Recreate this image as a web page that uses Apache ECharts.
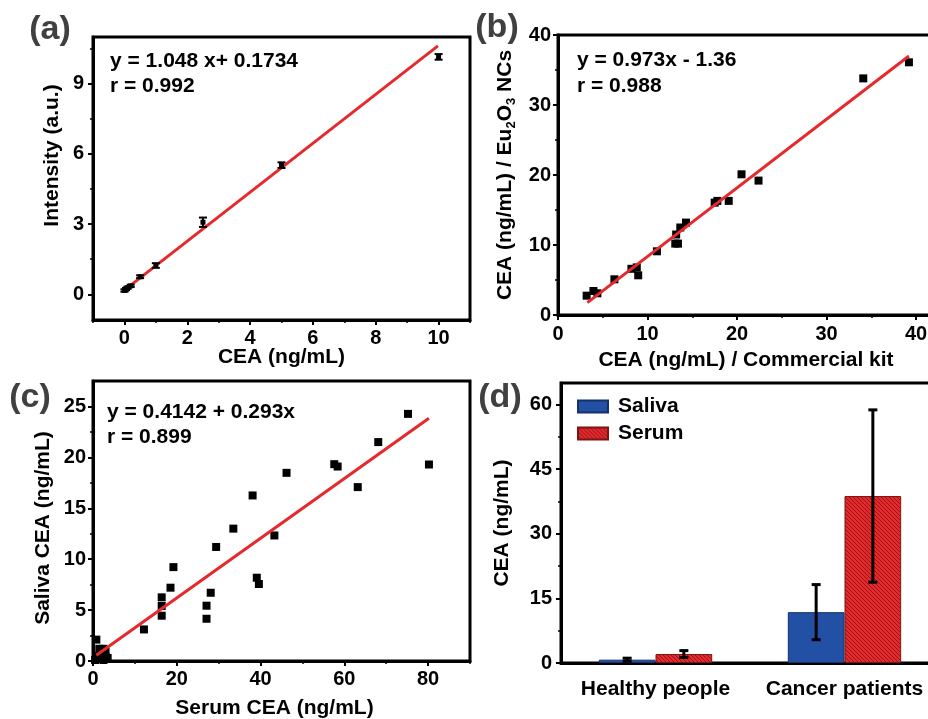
<!DOCTYPE html>
<html><head><meta charset="utf-8">
<script src="https://cdn.jsdelivr.net/npm/echarts@6/dist/echarts.min.js"></script>
<style>html,body{margin:0;padding:0;background:#fff}#c{width:928px;height:719px}</style>
</head><body><div id="c"></div>
<script>
// ---------- data ----------
// (a) calibration
const aX = [0, 0.05, 0.1, 0.2, 0.5, 1, 2.5, 5, 10];
const aY = [0.16, 0.22, 0.28, 0.36, 0.75, 1.23, 3.08, 5.52, 10.15];
const aErr = [0.05, 0.05, 0.05, 0.05, 0.06, 0.1, 0.2, 0.12, 0.12];
const aFitX = [0, 9.98];
const aFitY = [0.18, 10.62];
const aXTicks = [0, 2, 4, 6, 8, 10];
const aXMinor = [-1, 1, 3, 5, 7, 9, 11];
const aYTicks = [0, 3, 6, 9];
const aYMinor = [-1.5, 1.5, 4.5, 7.5, 10.5];
// (b) Eu2O3 NCs vs commercial kit
const bX = [3.2, 3.96, 4.4, 6.3, 8.2, 8.8, 8.96, 11.05, 13.2, 13.1, 13.4, 13.66, 14.3, 17.5, 17.8, 19.07, 20.5, 22.4, 34.1, 39.2];
const bY = [2.76, 3.43, 3.1, 5.1, 6.6, 6.8, 5.67, 9.1, 11.5, 10.2, 10.2, 12.5, 13.2, 16.05, 16.3, 16.3, 20.1, 19.2, 33.8, 36.1];
const bFitX = [3.28, 39.2];
const bFitY = [1.76, 37.0];
const bXTicks = [0, 10, 20, 30, 40];
const bXMinor = [5, 15, 25, 35];
const bYTicks = [0, 10, 20, 30, 40];
const bYMinor = [5, 15, 25, 35];
// (c) saliva vs serum
const cX = [0.8, 1.5, 2.5, 3.0, 1.0, 2.0, 3.0, 1.5, 2.5, 0.5, 3.5, 12.16, 16.4, 16.4, 16.4, 18.5, 19.2, 27.1, 27.1, 28.1, 29.4, 33.5, 38.1, 39.1, 39.6, 43.3, 46.2, 57.6, 58.4, 63.2, 68.1, 75.2, 80.2];
const cY = [2.1, 1.2, 1.2, 0.9, 0.5, 0.6, 0.4, 0.2, 0.1, 0.1, 0.3, 3.1, 6.25, 5.4, 4.45, 7.2, 9.22, 5.43, 4.15, 6.7, 11.2, 13.0, 16.26, 8.18, 7.56, 12.33, 18.48, 19.33, 19.1, 17.08, 21.5, 24.27, 19.3];
const cFitX = [0.8, 80.2];
const cFitY = [0.56, 23.85];
const cXTicks = [0, 20, 40, 60, 80];
const cXMinor = [10, 30, 50, 70, 90];
const cYTicks = [0, 5, 10, 15, 20, 25];
const cYMinor = [2.5, 7.5, 12.5, 17.5, 22.5];
// (d) bar chart
const dCategories = ['Healthy people', 'Cancer patients'];
const dSaliva = [0.77, 11.8];
const dSalivaErr = [0.35, 6.4];
const dSerum = [2.08, 38.76];
const dSerumErr = [0.8, 20.0];
const dYTicks = [0, 15, 30, 45, 60];
const dYMinor = [7.5, 22.5, 37.5, 52.5];

// ---------- style ----------
const FF = '"Liberation Sans", Arial, sans-serif';
const RED = '#e5292c';
const BLUE = '#2150a5';

function hatch() {
  const s = 4, c = document.createElement('canvas');
  c.width = s; c.height = s;
  const g = c.getContext('2d');
  g.fillStyle = RED; g.fillRect(0, 0, s, s);
  g.strokeStyle = '#7a1212'; g.lineWidth = 0.8;
  g.beginPath();
  g.moveTo(0, 0); g.lineTo(s, s);
  g.moveTo(-1, s - 1); g.lineTo(1, s + 1);
  g.moveTo(s - 1, -1); g.lineTo(s + 1, 1);
  g.stroke();
  return c;
}

const labelStyle = {color: '#000', fontSize: 20, fontWeight: 'bold', fontFamily: FF};
const nameStyle = {color: '#000', fontSize: 21, fontWeight: 'bold', fontFamily: FF};

function majorAxis(grid, pos, min, max, ticks, margin, name, gap, nameExtra) {
  return {
    type: 'value', gridIndex: grid, position: pos, min: min, max: max,
    axisLine: {show: true, onZero: false, lineStyle: {color: '#000', width: 3}},
    axisTick: {show: true, inside: false, length: 5, customValues: ticks, lineStyle: {color: '#000', width: 2}},
    axisLabel: {show: true, customValues: ticks, margin: margin, ...labelStyle},
    splitLine: {show: false},
    name: name, nameLocation: 'middle', nameGap: gap, nameMoveOverlap: false,
    nameRotate: (pos === 'left') ? 90 : 0,
    nameTextStyle: Object.assign({}, nameStyle, nameExtra || {})
  };
}
function minorAxis(grid, pos, min, max, ticks) {
  return {
    type: 'value', gridIndex: grid, position: pos, min: min, max: max,
    axisLine: {show: false, onZero: false},
    axisTick: {show: true, inside: false, length: 3, customValues: ticks, lineStyle: {color: '#000', width: 1.5}},
    axisLabel: {show: false},
    splitLine: {show: false}
  };
}

function errA(params, api) {
  const x = api.value(0), y = api.value(1), e = api.value(2);
  const t = api.coord([x, y + e]), b = api.coord([x, y - e]);
  const w = 4;
  const st = {stroke: '#000', lineWidth: 2};
  return {type: 'group', children: [
    {type: 'line', shape: {x1: t[0], y1: t[1], x2: b[0], y2: b[1]}, style: st},
    {type: 'line', shape: {x1: t[0] - w, y1: t[1], x2: t[0] + w, y2: t[1]}, style: st},
    {type: 'line', shape: {x1: b[0] - w, y1: b[1], x2: b[0] + w, y2: b[1]}, style: st}
  ]};
}
function errD(off) {
  return function (params, api) {
    const cat = api.value(0), v = api.value(1), e = api.value(2);
    const band = api.size([1, 0])[0];
    const c = api.coord([cat, v]);
    const x = c[0] + off * band;
    const t = api.coord([cat, v + e])[1], b = api.coord([cat, v - e])[1];
    const w = 4.5;
    const st = {stroke: '#000', lineWidth: 3};
    return {type: 'group', children: [
      {type: 'line', shape: {x1: x, y1: t, x2: x, y2: b}, style: st},
      {type: 'line', shape: {x1: x - w, y1: t, x2: x + w, y2: t}, style: st},
      {type: 'line', shape: {x1: x - w, y1: b, x2: x + w, y2: b}, style: st}
    ]};
  };
}

const zip = (xs, ys) => xs.map((x, i) => [x, ys[i]]);
const gridBase = {show: true, borderColor: '#000', borderWidth: 3, containLabel: false, outerBoundsMode: 'none'};
const dot = {color: '#000', opacity: 1};

const option = {
  animation: false,
  backgroundColor: '#fff',
  grid: [
    Object.assign({left: 93, top: 37, right: 458, bottom: 399}, gridBase),
    Object.assign({left: 558, top: 35, right: -6, bottom: 404}, gridBase),
    Object.assign({left: 93, top: 381, right: 458, bottom: 58}, gridBase),
    Object.assign({left: 561, top: 383, right: -11, bottom: 56}, gridBase)
  ],
  xAxis: [
    majorAxis(0, 'bottom', -1, 11, aXTicks, 8, 'CEA (ng/mL)', 27),
    minorAxis(0, 'bottom', -1, 11, aXMinor),
    majorAxis(1, 'bottom', 0, 42, bXTicks, 9, 'CEA (ng/mL) / Commercial kit', 35),
    minorAxis(1, 'bottom', 0, 42, bXMinor),
    majorAxis(2, 'bottom', 0, 90, cXTicks, 8, 'Serum CEA (ng/mL)', 37, {padding: [0, 14, 0, 0]}),
    minorAxis(2, 'bottom', 0, 90, cXMinor),
    {
      type: 'category', gridIndex: 3, position: 'bottom', data: dCategories,
      axisLine: {show: true, onZero: false, lineStyle: {color: '#000', width: 3}},
      axisTick: {show: false},
      axisLabel: {margin: 16, interval: 0, hideOverlap: false, color: '#000', fontSize: 21, fontWeight: 'bold', fontFamily: FF},
      splitLine: {show: false}
    }
  ],
  yAxis: [
    majorAxis(0, 'left', -1.1, 11, aYTicks, 9, 'Intensity (a.u.)', 30, {padding: [0, 0, 0, 46]}),
    minorAxis(0, 'left', -1.1, 11, aYMinor),
    majorAxis(1, 'left', 0, 40, bYTicks, 7, '{m|CEA (ng/mL) / Eu}{s|2}{m|O}{s|3}{m| NCs}', 40, {
      rich: {
        m: {fontSize: 21, fontWeight: 'bold', fontFamily: FF, color: '#000'},
        s: {fontSize: 13, fontWeight: 'bold', fontFamily: FF, color: '#000', padding: [12, 0, 0, 0]}
      }
    }),
    minorAxis(1, 'left', 0, 40, bYMinor),
    majorAxis(2, 'left', 0, 27.5, cYTicks, 7, 'Saliva CEA (ng/mL)', 39, {padding: [0, 14, 0, 0]}),
    minorAxis(2, 'left', 0, 27.5, cYMinor),
    majorAxis(3, 'left', 0, 65, dYTicks, 9, 'CEA (ng/mL)', 48),
    minorAxis(3, 'left', 0, 65, dYMinor)
  ],
  legend: {
    left: 572, top: 391, orient: 'vertical', itemWidth: 30, itemHeight: 12, itemGap: 6,
    icon: 'rect', data: ['Saliva', 'Serum'],
    textStyle: {color: '#000', fontSize: 21, fontWeight: 'bold', fontFamily: FF, padding: [0, 0, 0, 5]}
  },
  series: [
    // (a)
    {type: 'line', xAxisIndex: 0, yAxisIndex: 0, data: zip(aFitX, aFitY), symbol: 'none',
     lineStyle: {color: RED, width: 3}, z: 3},
    {type: 'custom', xAxisIndex: 0, yAxisIndex: 0, renderItem: errA,
     data: aX.map((x, i) => [x, aY[i], aErr[i]]), z: 4},
    {type: 'scatter', xAxisIndex: 0, yAxisIndex: 0, data: zip(aX, aY), symbol: 'rect', symbolSize: 5,
     itemStyle: dot, z: 5},
    // (b)
    {type: 'scatter', xAxisIndex: 2, yAxisIndex: 2, data: zip(bX, bY), symbol: 'rect', symbolSize: 8,
     itemStyle: dot, z: 2},
    {type: 'line', xAxisIndex: 2, yAxisIndex: 2, data: zip(bFitX, bFitY), symbol: 'none',
     lineStyle: {color: RED, width: 3}, z: 3},
    // (c)
    {type: 'scatter', xAxisIndex: 4, yAxisIndex: 4, data: zip(cX, cY), symbol: 'rect', symbolSize: 8,
     itemStyle: dot, z: 2},
    {type: 'line', xAxisIndex: 4, yAxisIndex: 4, data: zip(cFitX, cFitY), symbol: 'none',
     lineStyle: {color: RED, width: 3}, z: 3},
    // (d)
    {name: 'Saliva', type: 'bar', xAxisIndex: 6, yAxisIndex: 6, data: dSaliva, barWidth: '30%', barGap: '0%',
     itemStyle: {color: BLUE, borderColor: '#15306a', borderWidth: 1}},
    {name: 'Serum', type: 'bar', xAxisIndex: 6, yAxisIndex: 6, data: dSerum, barWidth: '30%', barGap: '0%',
     itemStyle: {color: {image: hatch(), repeat: 'repeat'}, borderColor: '#7a1515', borderWidth: 1}},
    {type: 'custom', xAxisIndex: 6, yAxisIndex: 6, renderItem: errD(-0.15),
     data: dSaliva.map((v, i) => [i, v, dSalivaErr[i]]), z: 5},
    {type: 'custom', xAxisIndex: 6, yAxisIndex: 6, renderItem: errD(0.15),
     data: dSerum.map((v, i) => [i, v, dSerumErr[i]]), z: 5}
  ],
  graphic: [
    {type: 'text', x: 110, y: 61, style: {text: 'y = 1.048 x+ 0.1734', fill: '#000', font: 'bold 21px ' + FF, verticalAlign: 'middle', textVerticalAlign: 'middle'}},
    {type: 'text', x: 110, y: 86, style: {text: 'r = 0.992', fill: '#000', font: 'bold 21px ' + FF, verticalAlign: 'middle', textVerticalAlign: 'middle'}},
    {type: 'text', x: 577, y: 60, style: {text: 'y = 0.973x - 1.36', fill: '#000', font: 'bold 21px ' + FF, verticalAlign: 'middle', textVerticalAlign: 'middle'}},
    {type: 'text', x: 577, y: 86, style: {text: 'r = 0.988', fill: '#000', font: 'bold 21px ' + FF, verticalAlign: 'middle', textVerticalAlign: 'middle'}},
    {type: 'text', x: 107, y: 412, style: {text: 'y = 0.4142 + 0.293x', fill: '#000', font: 'bold 21px ' + FF, verticalAlign: 'middle', textVerticalAlign: 'middle'}},
    {type: 'text', x: 107, y: 437, style: {text: 'r = 0.899', fill: '#000', font: 'bold 21px ' + FF, verticalAlign: 'middle', textVerticalAlign: 'middle'}},
    {type: 'text', x: 50, y: 30, style: {text: '(a)', fill: '#404040', font: 'bold 34px ' + FF, align: 'center', verticalAlign: 'middle', textAlign: 'center', textVerticalAlign: 'middle'}},
    {type: 'text', x: 497, y: 28, style: {text: '(b)', fill: '#404040', font: 'bold 34px ' + FF, align: 'center', verticalAlign: 'middle', textAlign: 'center', textVerticalAlign: 'middle'}},
    {type: 'text', x: 30, y: 398, style: {text: '(c)', fill: '#404040', font: 'bold 34px ' + FF, align: 'center', verticalAlign: 'middle', textAlign: 'center', textVerticalAlign: 'middle'}},
    {type: 'text', x: 500, y: 398, style: {text: '(d)', fill: '#404040', font: 'bold 34px ' + FF, align: 'center', verticalAlign: 'middle', textAlign: 'center', textVerticalAlign: 'middle'}}
  ]
};

const chart = echarts.init(document.getElementById('c'), null, {renderer: 'canvas'});
chart.setOption(option);
</script>
</body></html>
